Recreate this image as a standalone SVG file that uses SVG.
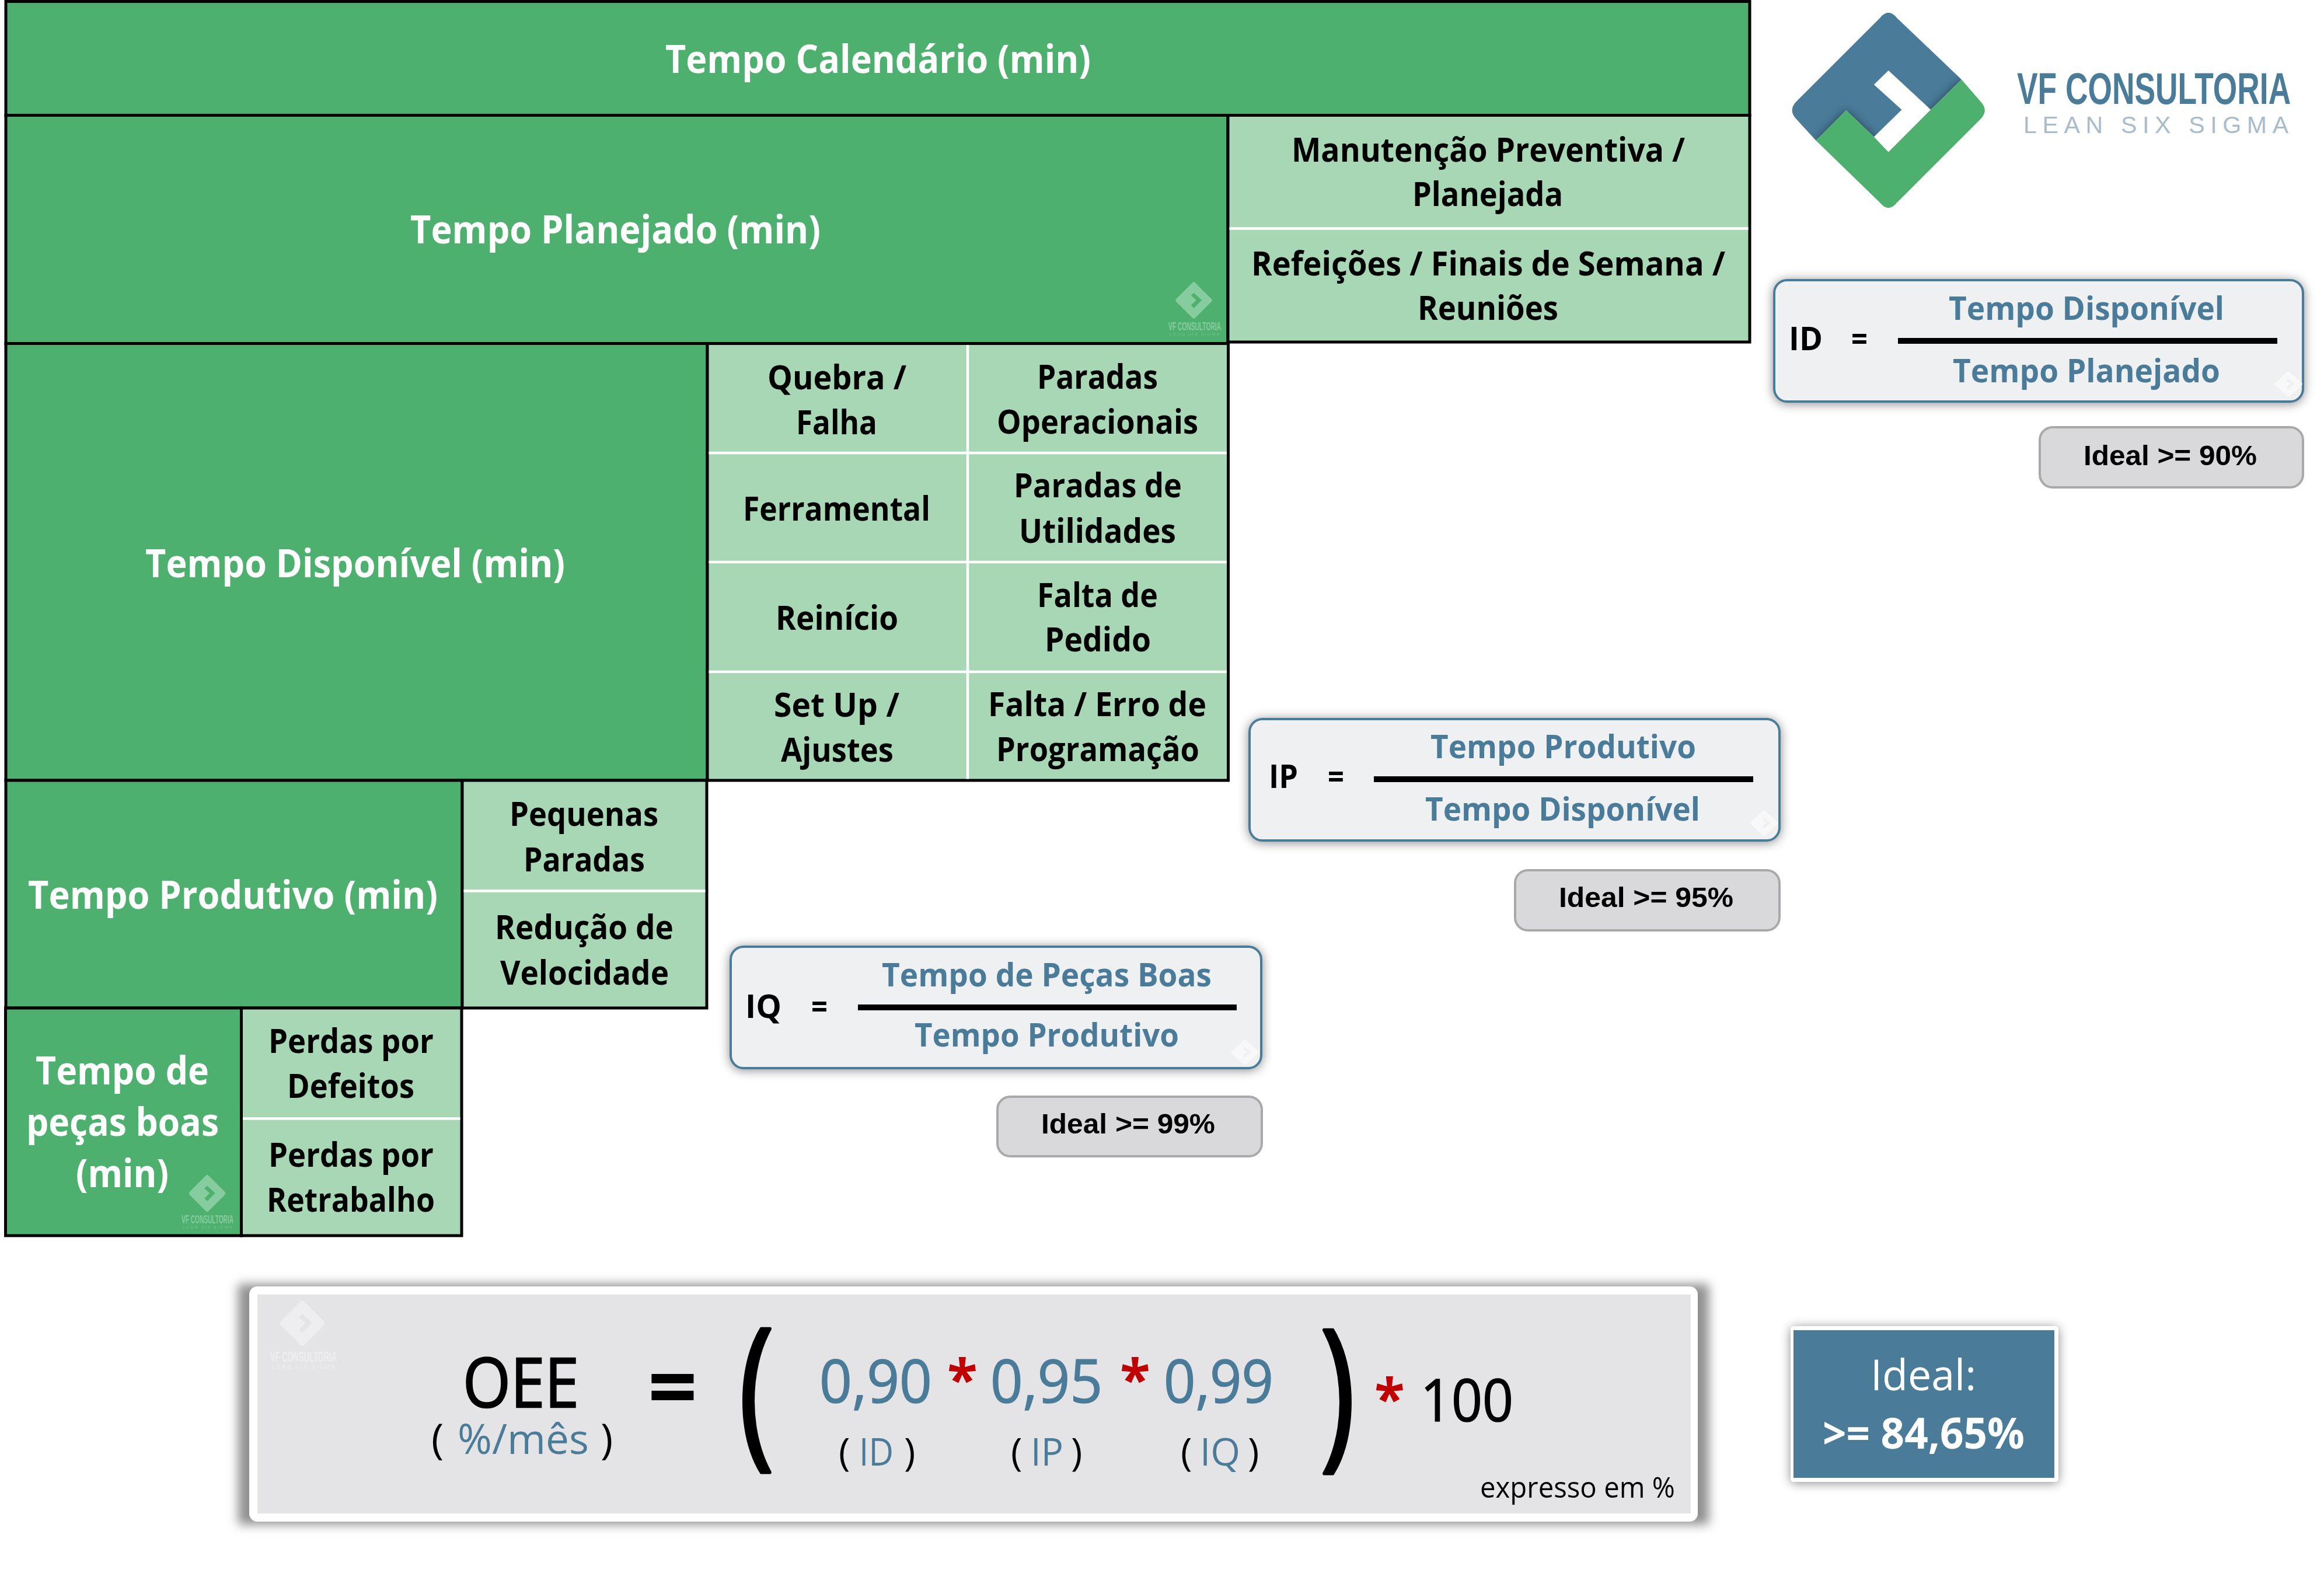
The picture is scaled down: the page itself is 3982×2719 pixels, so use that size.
<svg xmlns="http://www.w3.org/2000/svg" width="3982" height="2719" viewBox="0 0 3982 2719">
<style>
text{font-family:"Open Sans","Noto Sans","Liberation Sans",sans-serif}
.g{fill:#4eb06f;stroke:#000;stroke-width:5}
.l{fill:#a7d7b5;stroke:#000;stroke-width:5}
.w{stroke:#fff;stroke-width:4.5;fill:none}
.h{font-size:66px;font-weight:700;fill:#fff}
.c{font-size:57px;font-weight:700;fill:#000}
.f{fill:#eff0f2;stroke:#4a7c99;stroke-width:4;filter:url(#sh)}
.n{font-size:55px;font-weight:700;fill:#4a7c99}
.k{font-size:55px;font-weight:700;fill:#000}
.bar{fill:#000}
.i{fill:#d9d9db;stroke:#a9a9a9;stroke-width:4}
.t{font-family:"Liberation Sans",Arial,sans-serif;font-size:49px;font-weight:700;fill:#000}
.big{font-size:102px;fill:#4a7c99;stroke:#4a7c99;stroke-width:1.5}
.sm{font-size:66px;fill:#4a7c99}
.blk{font-size:66px;fill:#000}
.ast{font-size:95px;font-weight:700;fill:#c00000}
.bigp{font-size:282px;fill:#000;stroke:#000;stroke-width:6;stroke-linejoin:round}
.wm{font-family:"Liberation Sans",Arial,sans-serif}
</style>
<defs>
<filter id="sh" x="-10%" y="-20%" width="120%" height="140%"><feDropShadow dx="0" dy="2" stdDeviation="9" flood-color="#000" flood-opacity="0.45"/></filter>
<filter id="bl" x="-20%" y="-20%" width="140%" height="140%"><feGaussianBlur stdDeviation="7"/></filter>
<filter id="bl2" x="-5%" y="-20%" width="110%" height="140%"><feGaussianBlur stdDeviation="9"/></filter>
<path id="blue" d="M-14,-153Q0,-170 14,-153L121,-51L70,-1L0,-66L-24,-42.5L22,-1L-24,44L-70,0L-120,50L-153,14Q-166,0 -153,-14Z"/>
<path id="green" d="M-120,50L-70,0L-24,44L0,69L70,-1L121,-51L153,-14Q166,0 153,14L14,153Q0,170 -14,153Z"/>
<clipPath id="blueclip"><use href="#blue"/></clipPath>
<g id="mark">
<path fill-rule="evenodd" d="M-14,-153Q0,-170 14,-153L153,-14Q166,0 153,14L14,153Q0,170 -14,153L-153,14Q-166,0 -153,-14ZM0,-66L70,-1L0,69L-24,44L22,-1L-24,-42.5Z"/>
</g>
</defs>
<rect width="3982" height="2719" fill="#fff"/>

<g id="tempo-calendario">
<rect class="g" x="10" y="2.5" width="2988" height="195"/>
<text class="h" x="1140" y="125" textLength="729" lengthAdjust="spacingAndGlyphs">Tempo Calendário (min)</text>
</g>
<g id="tempo-planejado">
<rect class="g" x="10" y="197.5" width="2094" height="391"/>
<text class="h" x="703" y="417" textLength="703" lengthAdjust="spacingAndGlyphs">Tempo Planejado (min)</text>
<g fill="#86cc9e"><use href="#mark" transform="translate(2045.5,514.5) scale(.195)"/>
<text class="wm" x="2002" y="566" font-size="20" font-weight="700" textLength="90" lengthAdjust="spacingAndGlyphs">VF CONSULTORIA</text>
<text class="wm" x="2004" y="575" font-size="8" opacity=".6" textLength="86" lengthAdjust="spacing">LEAN SIX SIGMA</text></g>
</g>
<g id="perdas-planejadas">
<rect class="l" x="2104" y="197.5" width="894" height="388.5"/>
<line class="w" x1="2106.5" x2="2995.5" y1="391.5" y2="391.5"/>
<text class="c" x="2213" y="277" textLength="674" lengthAdjust="spacingAndGlyphs">Manutenção Preventiva /</text>
<text class="c" x="2420" y="353" textLength="258" lengthAdjust="spacingAndGlyphs">Planejada</text>
<text class="c" x="2144" y="472" textLength="812" lengthAdjust="spacingAndGlyphs">Refeições / Finais de Semana /</text>
<text class="c" x="2429" y="548" textLength="241" lengthAdjust="spacingAndGlyphs">Reuniões</text>
</g>
<g id="tempo-disponivel">
<rect class="g" x="10" y="588.5" width="1202" height="748.5"/>
<text class="h" x="249" y="989" textLength="719" lengthAdjust="spacingAndGlyphs">Tempo Disponível (min)</text>
</g>
<g id="perdas-disponibilidade">
<rect class="l" x="1212" y="588.5" width="892.5" height="748.5"/>
<line class="w" x1="1214.5" x2="2102" y1="776" y2="776"/>
<line class="w" x1="1214.5" x2="2102" y1="963" y2="963"/>
<line class="w" x1="1214.5" x2="2102" y1="1151" y2="1151"/>
<line class="w" x1="1658" x2="1658" y1="591" y2="1334.5"/>
<text class="c" x="1315" y="667" textLength="238" lengthAdjust="spacingAndGlyphs">Quebra /</text>
<text class="c" x="1364" y="744" textLength="139" lengthAdjust="spacingAndGlyphs">Falha</text>
<text class="c" x="1273" y="892" textLength="321" lengthAdjust="spacingAndGlyphs">Ferramental</text>
<text class="c" x="1329" y="1079" textLength="210" lengthAdjust="spacingAndGlyphs">Reinício</text>
<text class="c" x="1326" y="1228" textLength="215" lengthAdjust="spacingAndGlyphs">Set Up /</text>
<text class="c" x="1338" y="1305" textLength="193" lengthAdjust="spacingAndGlyphs">Ajustes</text>
<text class="c" x="1777" y="666" textLength="207" lengthAdjust="spacingAndGlyphs">Paradas</text>
<text class="c" x="1708" y="743" textLength="345" lengthAdjust="spacingAndGlyphs">Operacionais</text>
<text class="c" x="1737" y="852" textLength="288" lengthAdjust="spacingAndGlyphs">Paradas de</text>
<text class="c" x="1746" y="930" textLength="269" lengthAdjust="spacingAndGlyphs">Utilidades</text>
<text class="c" x="1777" y="1040" textLength="207" lengthAdjust="spacingAndGlyphs">Falta de</text>
<text class="c" x="1790" y="1116" textLength="182" lengthAdjust="spacingAndGlyphs">Pedido</text>
<text class="c" x="1693" y="1227" textLength="374" lengthAdjust="spacingAndGlyphs">Falta / Erro de</text>
<text class="c" x="1707" y="1304" textLength="348" lengthAdjust="spacingAndGlyphs">Programação</text>
</g>
<g id="tempo-produtivo">
<rect class="g" x="10" y="1337" width="782" height="390"/>
<text class="h" x="48" y="1557" textLength="702" lengthAdjust="spacingAndGlyphs">Tempo Produtivo (min)</text>
</g>
<g id="perdas-performance">
<rect class="l" x="792" y="1337" width="419" height="390"/>
<line class="w" x1="794.5" x2="1208.5" y1="1526.5" y2="1526.5"/>
<text class="c" x="873" y="1415" textLength="255" lengthAdjust="spacingAndGlyphs">Pequenas</text>
<text class="c" x="897" y="1493" textLength="208" lengthAdjust="spacingAndGlyphs">Paradas</text>
<text class="c" x="848" y="1609" textLength="306" lengthAdjust="spacingAndGlyphs">Redução de</text>
<text class="c" x="857" y="1687" textLength="289" lengthAdjust="spacingAndGlyphs">Velocidade</text>
</g>
<g id="tempo-pecas-boas">
<rect class="g" x="9.5" y="1727" width="404" height="390"/>
<text class="h" x="61" y="1858" textLength="297" lengthAdjust="spacingAndGlyphs">Tempo de</text>
<text class="h" x="45" y="1946" textLength="330" lengthAdjust="spacingAndGlyphs">peças boas</text>
<text class="h" x="130" y="2034" textLength="159" lengthAdjust="spacingAndGlyphs">(min)</text>
<g fill="#86cc9e"><use href="#mark" transform="translate(355,2044.5) scale(.196)"/>
<text class="wm" x="311" y="2096" font-size="20" font-weight="700" textLength="89" lengthAdjust="spacingAndGlyphs">VF CONSULTORIA</text>
<text class="wm" x="313" y="2105" font-size="8" opacity=".6" textLength="85" lengthAdjust="spacing">LEAN SIX SIGMA</text></g>
</g>
<g id="perdas-qualidade">
<rect class="l" x="413.5" y="1727" width="377.5" height="390"/>
<line class="w" x1="416" x2="788.5" y1="1916.5" y2="1916.5"/>
<text class="c" x="460" y="1804" textLength="283" lengthAdjust="spacingAndGlyphs">Perdas por</text>
<text class="c" x="492" y="1881" textLength="218" lengthAdjust="spacingAndGlyphs">Defeitos</text>
<text class="c" x="460" y="1999" textLength="283" lengthAdjust="spacingAndGlyphs">Perdas por</text>
<text class="c" x="457" y="2076" textLength="288" lengthAdjust="spacingAndGlyphs">Retrabalho</text>
</g>

<g id="logo">
<g transform="translate(3235.7,189) scale(1.035)">
<use href="#blue" fill="#4a7c99"/>
<g clip-path="url(#blueclip)"><use href="#green" fill="#1c2c38" opacity=".7" filter="url(#bl)"/></g>
<use href="#green" fill="#4eb06f"/>
</g>
<text class="wm" transform="translate(3456,178) scale(.702,1)" font-size="76" font-weight="700" fill="#4a7c99">VF CONSULTORIA</text>
<text class="wm" x="3467" y="228" font-size="41" fill="#a9bccb" textLength="454" lengthAdjust="spacing">LEAN  SIX  SIGMA</text>
</g>

<g id="formula-id">
<rect class="f" x="3040" y="480" width="906" height="208" rx="22"/>
<use href="#mark" fill="#f8f8f9" transform="translate(3921,658) scale(.15,.135)"/>
<text class="k" x="3065" y="600" textLength="58" lengthAdjust="spacingAndGlyphs">ID</text>
<text class="k" x="3172" y="600" textLength="28" lengthAdjust="spacingAndGlyphs">=</text>
<rect class="bar" x="3252" y="579" width="650" height="10"/>
<text class="n" x="3339" y="548" textLength="472" lengthAdjust="spacingAndGlyphs">Tempo Disponível</text>
<text class="n" x="3346" y="655" textLength="458" lengthAdjust="spacingAndGlyphs">Tempo Planejado</text>
</g>
<g id="ideal-id">
<rect class="i" x="3495" y="732" width="451" height="103" rx="22"/>
<text class="t" x="3570" y="797" textLength="297" lengthAdjust="spacingAndGlyphs">Ideal &gt;= 90%</text>
</g>
<g id="formula-ip">
<rect class="f" x="2141" y="1232" width="908" height="208" rx="22"/>
<use href="#mark" fill="#f8f8f9" transform="translate(3023,1410) scale(.15,.135)"/>
<text class="k" x="2174" y="1350" textLength="50" lengthAdjust="spacingAndGlyphs">IP</text>
<text class="k" x="2275" y="1350" textLength="28" lengthAdjust="spacingAndGlyphs">=</text>
<rect class="bar" x="2354" y="1330" width="650" height="10"/>
<text class="n" x="2451" y="1299" textLength="455" lengthAdjust="spacingAndGlyphs">Tempo Produtivo</text>
<text class="n" x="2442" y="1406" textLength="471" lengthAdjust="spacingAndGlyphs">Tempo Disponível</text>
</g>
<g id="ideal-ip">
<rect class="i" x="2596" y="1491" width="453" height="103" rx="22"/>
<text class="t" x="2671" y="1554" textLength="299" lengthAdjust="spacingAndGlyphs">Ideal &gt;= 95%</text>
</g>
<g id="formula-iq">
<rect class="f" x="1252" y="1622" width="909" height="208" rx="22"/>
<use href="#mark" fill="#f8f8f9" transform="translate(2133,1803) scale(.15,.135)"/>
<text class="k" x="1277" y="1744" textLength="62" lengthAdjust="spacingAndGlyphs">IQ</text>
<text class="k" x="1390" y="1744" textLength="28" lengthAdjust="spacingAndGlyphs">=</text>
<rect class="bar" x="1470" y="1721" width="649" height="10"/>
<text class="n" x="1511" y="1690" textLength="565" lengthAdjust="spacingAndGlyphs">Tempo de Peças Boas</text>
<text class="n" x="1567" y="1793" textLength="453" lengthAdjust="spacingAndGlyphs">Tempo Produtivo</text>
</g>
<g id="ideal-iq">
<rect class="i" x="1709" y="1879" width="453" height="102" rx="22"/>
<text class="t" x="1784" y="1942" textLength="298" lengthAdjust="spacingAndGlyphs">Ideal &gt;= 99%</text>
</g>

<g id="oee">
<rect x="408" y="2200" width="2520" height="412" fill="#8f8f8f" filter="url(#bl2)"/>
<rect x="427" y="2204" width="2482" height="403" rx="14" fill="#fff"/>
<rect x="441" y="2218" width="2456" height="375" fill="#e4e4e6"/>
<g fill="#eeeef0"><use href="#mark" transform="translate(518,2267) scale(.24,.242)"/>
<text class="wm" x="463" y="2333" font-size="24" font-weight="700" textLength="114" lengthAdjust="spacingAndGlyphs">VF CONSULTORIA</text>
<text class="wm" x="466" y="2345" font-size="10" textLength="108" lengthAdjust="spacing">LEAN SIX SIGMA</text></g>
<text x="793" y="2411" font-size="118" fill="#000" stroke="#000" stroke-width="2.5" textLength="199" lengthAdjust="spacingAndGlyphs">OEE</text>
<text class="blk" x="739" y="2491" style="font-size:72px">(</text>
<text class="sm" x="784" y="2491" style="font-size:72px" textLength="225" lengthAdjust="spacingAndGlyphs">%/mês</text>
<text class="blk" x="1029" y="2491" style="font-size:72px">)</text>
<text x="1110" y="2430" font-size="150" font-weight="700" fill="#000" textLength="85" lengthAdjust="spacingAndGlyphs">=</text>
<text class="bigp" transform="translate(1266,2478) scale(.72,1)">(</text>
<text class="big" x="1404" y="2403" textLength="193" lengthAdjust="spacingAndGlyphs">0,90</text>
<text class="ast" x="1623" y="2397">*</text>
<text class="big" x="1697" y="2403" textLength="192" lengthAdjust="spacingAndGlyphs">0,95</text>
<text class="ast" x="1919" y="2397">*</text>
<text class="big" x="1994" y="2403" textLength="188" lengthAdjust="spacingAndGlyphs">0,99</text>
<text class="blk" x="1437" y="2511">(</text>
<text class="sm" x="1472" y="2511" textLength="59" lengthAdjust="spacingAndGlyphs">ID</text>
<text class="blk" x="1549" y="2511">)</text>
<text class="blk" x="1732" y="2511">(</text>
<text class="sm" x="1766" y="2511" textLength="56" lengthAdjust="spacingAndGlyphs">IP</text>
<text class="blk" x="1835" y="2511">)</text>
<text class="blk" x="2023" y="2511">(</text>
<text class="sm" x="2056" y="2511" textLength="69" lengthAdjust="spacingAndGlyphs">IQ</text>
<text class="blk" x="2138" y="2511">)</text>
<text class="bigp" transform="translate(2262,2480) scale(.72,1)">)</text>
<text class="ast" x="2355" y="2430">*</text>
<text x="2434" y="2435" font-size="100" fill="#000" stroke="#000" stroke-width="1.5" textLength="159" lengthAdjust="spacingAndGlyphs">100</text>
<text x="2536" y="2566" font-size="49" fill="#000" textLength="334" lengthAdjust="spacingAndGlyphs">expresso em %</text>
</g>
<g id="oee-ideal">
<rect x="3068" y="2272" width="459" height="267" rx="6" fill="#fff" filter="url(#sh)"/>
<rect x="3073" y="2279" width="447" height="253" fill="#4a7c99"/>
<text x="3205" y="2382" font-size="73" fill="#fff" textLength="181" lengthAdjust="spacingAndGlyphs">Ideal:</text>
<text x="3123" y="2482" font-size="73" font-weight="700" fill="#fff" textLength="346" lengthAdjust="spacingAndGlyphs">&gt;= 84,65%</text>
</g>
</svg>
